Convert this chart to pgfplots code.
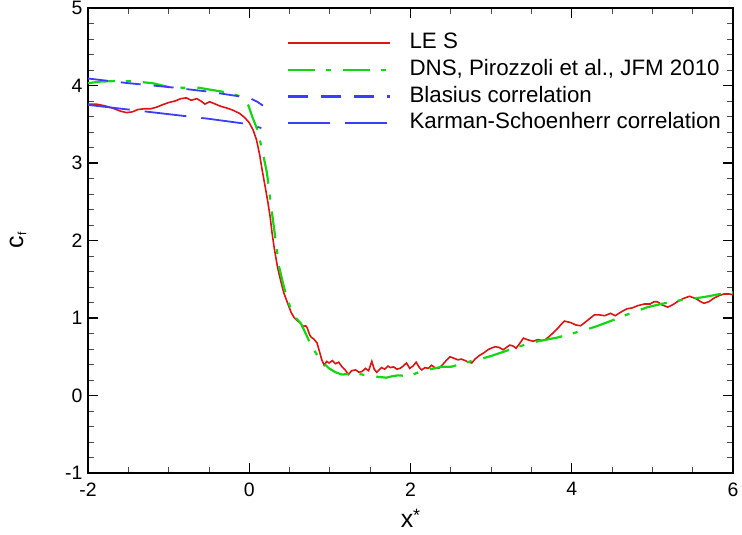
\documentclass[border=0pt]{standalone}
\usepackage{pgfplots}
\pgfplotsset{compat=1.18}
\usepackage{fontspec}
\setmainfont{Liberation Sans}
\definecolor{lesred}{RGB}{220,20,20}
\definecolor{dnsgreen}{RGB}{20,215,20}
\definecolor{corrblue}{RGB}{60,60,255}
\begin{document}
\begin{tikzpicture}
\begin{axis}[
  scale only axis,
  width=645bp, height=465bp,
  xmin=-2, xmax=6, ymin=-1, ymax=5,
  xtick={-2,0,2,4,6}, ytick={-1,0,1,2,3,4,5},
  minor x tick num=3, minor y tick num=4,
  tick align=inside,
  major tick length=10bp, minor tick length=6bp,
  every tick/.style={black, line width=1.2bp},
  minor tick style={black!70, line width=0.8bp},
  axis line style={line width=1.6bp},
  /pgf/number format/assume math mode=true,
  tick label style={font=\fontsize{19.5}{19.5}\selectfont},
  xticklabel style={yshift=-6bp},
  yticklabel style={xshift=-2bp},
  xlabel={x\raisebox{0.45ex}{\fontsize{18}{18}\selectfont *}},
  xlabel style={font=\fontsize{25}{25}\selectfont, at={(axis description cs:0.5,0)}, anchor=center, yshift=-45bp},
  ylabel={c\raisebox{-0.25ex}{\fontsize{12}{12}\selectfont f}},
  ylabel style={font=\fontsize{25}{25}\selectfont, yshift=32bp},
  legend cell align=left,
  legend style={draw=none, fill=none, at={(0.304,0.9518)}, anchor=north west,
    font=\fontsize{22.4}{27}\selectfont,
    nodes={inner sep=0pt, text height=16bp, text depth=5bp},
    row sep=5.7bp, column sep=18bp},
  legend image code/.code={\draw[#1, line width=2.3bp] (0bp,0bp) -- (102bp,0bp);},
]
\addplot[lesred, line width=1.6bp] coordinates {
(-2.00,3.76) (-1.90,3.76) (-1.80,3.74) (-1.70,3.71) (-1.60,3.67) (-1.52,3.65)
(-1.45,3.66) (-1.38,3.69) (-1.30,3.70) (-1.22,3.70) (-1.15,3.72) (-1.08,3.75)
(-1.00,3.78) (-0.92,3.80) (-0.85,3.83) (-0.78,3.84) (-0.72,3.81) (-0.65,3.83)
(-0.60,3.80) (-0.55,3.76) (-0.49,3.79) (-0.42,3.76) (-0.35,3.73) (-0.28,3.71)
(-0.20,3.68) (-0.12,3.64) (-0.06,3.59) (0.00,3.52) (0.05,3.42) (0.09,3.30)
(0.13,3.10) (0.16,2.91) (0.20,2.68) (0.23,2.50) (0.26,2.30) (0.28,2.12)
(0.31,1.90) (0.35,1.66) (0.39,1.48) (0.43,1.32) (0.48,1.18) (0.52,1.07)
(0.56,1.00) (0.59,0.97) (0.63,0.94) (0.67,0.89) (0.70,0.90) (0.72,0.87)
(0.75,0.78) (0.77,0.75) (0.80,0.73) (0.84,0.68) (0.87,0.57) (0.90,0.46)
(0.93,0.39) (0.96,0.44) (0.99,0.42) (1.03,0.45) (1.07,0.41) (1.11,0.43)
(1.15,0.37) (1.19,0.33) (1.23,0.27) (1.27,0.32) (1.32,0.33) (1.36,0.30)
(1.40,0.31) (1.44,0.35) (1.48,0.32) (1.52,0.44) (1.55,0.34) (1.58,0.30)
(1.61,0.33) (1.64,0.36) (1.68,0.34) (1.72,0.38) (1.75,0.36) (1.79,0.37)
(1.83,0.34) (1.87,0.35) (1.91,0.38) (1.95,0.42) (1.99,0.35) (2.03,0.38)
(2.07,0.43) (2.11,0.36) (2.14,0.33) (2.18,0.36) (2.22,0.35) (2.26,0.39)
(2.30,0.36) (2.35,0.35) (2.40,0.40) (2.45,0.46) (2.49,0.50) (2.54,0.48)
(2.59,0.46) (2.63,0.47) (2.68,0.45) (2.72,0.43) (2.76,0.42) (2.80,0.47)
(2.86,0.52) (2.91,0.55) (2.96,0.59) (3.00,0.61) (3.05,0.63) (3.10,0.62)
(3.15,0.59) (3.19,0.62) (3.23,0.65) (3.27,0.64) (3.31,0.61) (3.36,0.68)
(3.40,0.74) (3.45,0.72) (3.52,0.70) (3.58,0.72) (3.63,0.71) (3.67,0.72)
(3.72,0.76) (3.78,0.82) (3.83,0.87) (3.87,0.92) (3.91,0.96) (3.95,0.95)
(3.99,0.94) (4.05,0.91) (4.11,0.90) (4.16,0.94) (4.22,0.99) (4.28,1.04)
(4.34,1.04) (4.41,1.03) (4.48,1.06) (4.54,1.03) (4.60,1.07) (4.65,1.10)
(4.69,1.12) (4.75,1.13) (4.82,1.16) (4.90,1.18) (4.97,1.18) (5.02,1.21)
(5.06,1.21) (5.12,1.17) (5.19,1.14) (5.25,1.17) (5.31,1.21) (5.38,1.25)
(5.46,1.28) (5.54,1.25) (5.60,1.21) (5.64,1.19) (5.70,1.21) (5.77,1.26)
(5.83,1.29) (5.89,1.31) (5.95,1.31) (6.00,1.30)
};
\addlegendentry{LE S}
\addplot[dnsgreen, line width=2.2bp, dash pattern=on 27bp off 11bp on 5bp off 12bp] coordinates {
(-2.00,4.03) (-1.85,4.05) (-1.60,4.06) (-1.40,4.05) (-1.20,4.03) (-1.00,3.98)
(-0.80,3.97) (-0.62,3.97) (-0.45,3.94) (-0.33,3.92) (-0.20,3.89) (-0.12,3.86)
(-0.05,3.80) (-0.01,3.74) (0.04,3.59) (0.10,3.43) (0.16,3.17) (0.22,2.87)
(0.27,2.45) (0.31,2.14) (0.34,1.90) (0.37,1.66) (0.43,1.40) (0.48,1.22)
(0.53,1.08) (0.58,1.00) (0.64,0.93) (0.70,0.80) (0.77,0.64) (0.82,0.56)
(0.86,0.49) (0.92,0.42) (0.99,0.35) (1.07,0.30) (1.15,0.27) (1.25,0.28)
(1.32,0.29) (1.40,0.27) (1.48,0.26) (1.60,0.24) (1.70,0.23) (1.78,0.25)
(1.85,0.26) (1.98,0.25) (2.10,0.30) (2.19,0.33) (2.30,0.35) (2.38,0.37)
(2.50,0.37) (2.57,0.39) (2.68,0.42) (2.80,0.46) (2.90,0.48) (3.00,0.51)
(3.20,0.58) (3.49,0.68) (3.83,0.75) (4.11,0.83) (4.30,0.89) (4.48,0.96)
(4.70,1.05) (4.94,1.14) (5.15,1.19) (5.35,1.23) (5.64,1.27) (5.89,1.32)
(6.00,1.33)
};
\addlegendentry{DNS, Pirozzoli et al., JFM 2010}
\addplot[corrblue, line width=1.8bp, dash pattern=on 20bp off 13bp] coordinates {
(-2.00,4.09) (-1.50,4.03) (-1.00,3.98) (-0.50,3.92) (0.00,3.84) (0.10,3.79) (0.17,3.74)
};
\addlegendentry{Blasius correlation}
\addplot[corrblue, line width=1.8bp, dash pattern=on 42bp off 15bp] coordinates {
(-2.00,3.75) (-1.50,3.69) (-1.00,3.63) (-0.50,3.57) (0.00,3.50) (0.15,3.45)
};
\addlegendentry{Karman-Schoenherr correlation}
\end{axis}
\pgfresetboundingbox
\path (current axis.south west)+(-88bp,-62bp) coordinate (bbA);
\path (current axis.north east)+(9bp,8bp) coordinate (bbB);
\useasboundingbox (bbA) rectangle (bbB);
\end{tikzpicture}
\end{document}
